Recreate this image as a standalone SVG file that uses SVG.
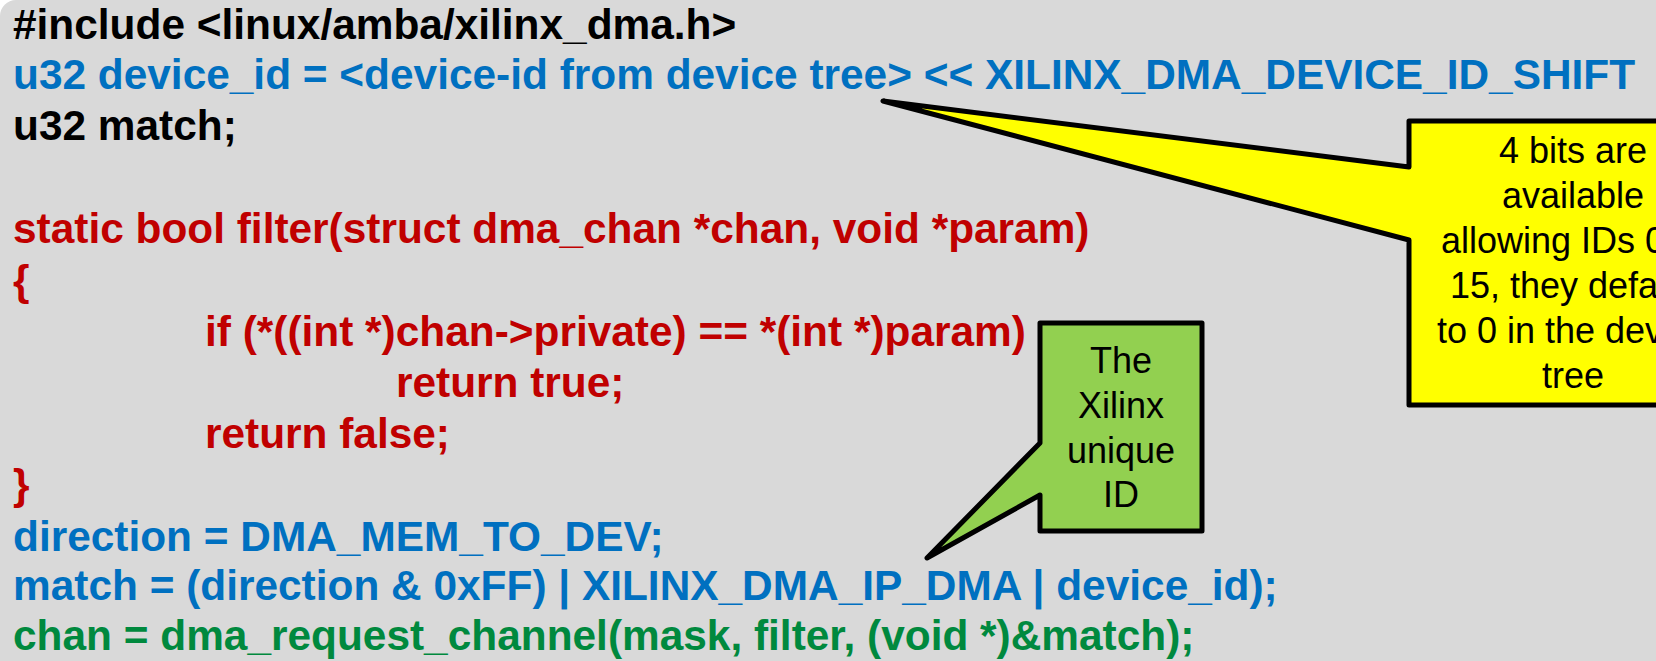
<svg xmlns="http://www.w3.org/2000/svg" width="1656" height="661" viewBox="0 0 1656 661">
<style>
.code{font-family:"Liberation Sans",Arial,sans-serif;font-weight:bold;font-size:42.4px}
.k{fill:#000000}.b{fill:#0070C0}.r{fill:#C00000}.g{fill:#00893E}
.note{font-family:"Liberation Sans",Arial,sans-serif;font-size:36px;fill:#000000;text-anchor:middle}
.callout{stroke:#000000;stroke-width:5;stroke-linejoin:round}
</style>
<rect x="0" y="0" width="1656" height="661" fill="#ffffff"/>
<rect x="0" y="0" width="1720" height="720" rx="16" ry="16" fill="#D9D9D9"/>
<g id="code" class="code">
<text x="13" y="39" class="k">#include &lt;linux/amba/xilinx_dma.h&gt;</text>
<text x="13" y="89" class="b">u32 device_id = &lt;device-id from device tree&gt; &lt;&lt; XILINX_DMA_DEVICE_ID_SHIFT</text>
<text x="13" y="140" class="k">u32 match;</text>
<text x="13" y="243" class="r">static bool filter(struct dma_chan *chan, void *param)</text>
<text x="13" y="295" class="r">{</text>
<text x="205" y="346" class="r">if (*((int *)chan-&gt;private) == *(int *)param)</text>
<text x="396" y="397" class="r">return true;</text>
<text x="205" y="448" class="r">return false;</text>
<text x="13" y="499" class="r">}</text>
<text x="13" y="551" class="b">direction = DMA_MEM_TO_DEV;</text>
<text x="13" y="600" class="b">match = (direction &amp; 0xFF) | XILINX_DMA_IP_DMA | device_id);</text>
<text x="13" y="650" class="g">chan = dma_request_channel(mask, filter, (void *)&amp;match);</text>
</g>
<g id="connectors"></g>
<g id="note-bits">
<path class="callout" fill="#FFFF00" d="M1409,121 L1740,121 L1740,405 L1409,405 L1409,240 L883,101 L1409,167 Z"/>
<text class="note" x="1573" y="163">4 bits are</text>
<text class="note" x="1573" y="208">available</text>
<text class="note" x="1573" y="253">allowing IDs 0 to</text>
<text class="note" x="1573" y="298">15, they default</text>
<text class="note" x="1573" y="343">to 0 in the device</text>
<text class="note" x="1573" y="388">tree</text>
</g>
<g id="note-id">
<path class="callout" fill="#92D050" d="M1040,323 L1202,323 L1202,531 L1040,531 L1040,495 L927,558 L1040,443 Z"/>
<text class="note" x="1121" y="373">The</text>
<text class="note" x="1121" y="418">Xilinx</text>
<text class="note" x="1121" y="463">unique</text>
<text class="note" x="1121" y="507">ID</text>
</g>
</svg>
